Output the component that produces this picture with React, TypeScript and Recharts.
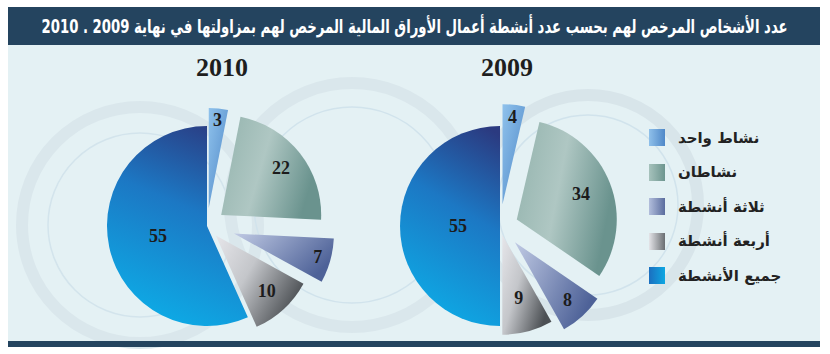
import React, { useLayoutEffect, useRef, useState } from "react";
import { PieChart, Pie, Sector, Tooltip, Cell } from "recharts";

// ---------- data ----------
const categories = ["نشاط واحد", "نشاطان", "ثلاثة أنشطة", "أربعة أنشطة", "جميع الأنشطة"];
const values2009 = [4, 34, 8, 9, 55];
const values2010 = [3, 22, 7, 10, 55];
const years = ["2009", "2010"];
const title = "عدد الأشخاص المرخص لهم بحسب عدد أنشطة أعمال الأوراق المالية المرخص لهم بمزاولتها في نهاية 2009 . 2010";

// ---------- styles ----------
const gradIds = ["gOne", "gTwo", "gThree", "gFour", "gAll"];
const explode2009 = [22, 18, 22, 9, 0];
const explode2010 = [18, 18, 28, 13, 0];
const labelDist2009 = [110, 87, 100, 74, 42];
const labelDist2010 = [107, 94, 115, 88, 50];

const RAD = Math.PI / 180;

const buildRows = (vals: number[]) => categories.map((c, i) => ({ name: c, value: vals[i], idx: i }));
const rows2009 = buildRows(values2009);
const rows2010 = buildRows(values2010);

const makeShape = (explode: number[]) => (props: any) => {
  const i = props.payload?.idx ?? props.idx ?? 0;
  const off = explode[i] || 0;
  const dx = off * Math.cos(-props.midAngle * RAD);
  const dy = off * Math.sin(-props.midAngle * RAD);
  return (
    <Sector
      cx={props.cx + dx}
      cy={props.cy + dy}
      innerRadius={props.innerRadius}
      outerRadius={props.outerRadius}
      startAngle={props.startAngle}
      endAngle={props.endAngle}
      fill={props.fill}
      stroke="none"
    />
  );
};

const makeLabel = (dist: number[]) => (props: any) => {
  const i = props.payload?.idx ?? props.idx ?? props.index ?? 0;
  const r = dist[i];
  const x = props.cx + r * Math.cos(-props.midAngle * RAD);
  const y = props.cy + r * Math.sin(-props.midAngle * RAD);
  return (
    <text
      x={x}
      y={y}
      textAnchor="middle"
      dominantBaseline="central"
      fontFamily="'Liberation Serif', 'DejaVu Serif', serif"
      fontWeight="bold"
      fontSize={18}
      fill="#1c1c1c"
    >
      {props.value}
    </text>
  );
};

const legendFills = [
  "linear-gradient(90deg,#8fc0ea,#4f88c8)",
  "linear-gradient(90deg,#a6c2bc,#6d958f)",
  "linear-gradient(90deg,#b2bedc,#5a6c9e)",
  "linear-gradient(90deg,#e4e4e8,#6a6e72)",
  "linear-gradient(90deg,#1b6fc0,#0ea7e2)",
];

const YearPie = ({ rows, explode, dist, cx }: any) => {
  const shape = makeShape(explode);
  return (
    <div style={{ position: "absolute", left: 0, top: 0 }}>
      <PieChart width={830} height={354}>
        <Pie
          data={rows}
          dataKey="value"
          nameKey="name"
          cx={cx}
          cy={221}
          outerRadius={100}
          innerRadius={0}
          startAngle={90}
          endAngle={-270}
          stroke="none"
          isAnimationActive={false}
          labelLine={false}
          label={makeLabel(dist)}
          shape={shape}
          activeShape={shape}
          inactiveShape={shape}
        >
          {rows.map((r: any, i: number) => (
            <Cell key={i} fill={`url(#${gradIds[i]})`} />
          ))}
        </Pie>
        <Tooltip defaultIndex={0} content={() => null} cursor={false} />
      </PieChart>
    </div>
  );
};

const FitTitle = ({ text, width }: { text: string; width: number }) => {
  const ref = useRef<HTMLSpanElement>(null);
  const [scale, setScale] = useState(1);
  useLayoutEffect(() => {
    if (ref.current) {
      const w = ref.current.offsetWidth;
      if (w > 0) setScale(width / w);
    }
  }, [text, width]);
  return (
    <div style={{ position: "absolute", left: 42, top: 7, width, height: 38, display: "flex", alignItems: "center", justifyContent: "center", overflow: "visible" }}>
      <span
        ref={ref}
        dir="rtl"
        style={{
          display: "inline-block",
          flex: "none",
          whiteSpace: "nowrap",
          color: "#ffffff",
          fontFamily: "'DejaVu Sans', sans-serif",
          fontWeight: "bold",
          fontSize: 19,
          lineHeight: "24px",
          transform: `scaleX(${scale})`,
          transformOrigin: "center center",
        }}
      >
        {text}
      </span>
    </div>
  );
};

export default function App() {
  return (
    <div style={{ position: "absolute", left: 0, top: 0, width: 830, height: 354, background: "#ffffff", overflow: "hidden" }}>
      <svg width={0} height={0} style={{ position: "absolute" }}>
        <defs>
          <linearGradient id="gAll" x1="0.85" y1="0" x2="0.55" y2="1">
            <stop offset="0" stopColor="#2b3a80" />
            <stop offset="0.45" stopColor="#1c78c4" />
            <stop offset="1" stopColor="#0ea8e4" />
          </linearGradient>
          <linearGradient id="gOne" x1="0" y1="0" x2="1" y2="1">
            <stop offset="0" stopColor="#8fc2ec" />
            <stop offset="1" stopColor="#4d86c6" />
          </linearGradient>
          <linearGradient id="gTwo" x1="0" y1="0" x2="1" y2="0.3">
            <stop offset="0" stopColor="#93b3ad" />
            <stop offset="0.5" stopColor="#afc7c3" />
            <stop offset="1" stopColor="#6a938e" />
          </linearGradient>
          <linearGradient id="gThree" x1="0" y1="0" x2="1" y2="0.5">
            <stop offset="0" stopColor="#c0cae4" />
            <stop offset="1" stopColor="#4e6298" />
          </linearGradient>
          <linearGradient id="gFour" x1="0" y1="0" x2="1" y2="0.6">
            <stop offset="0" stopColor="#e6e6ea" />
            <stop offset="0.45" stopColor="#c4c6ca" />
            <stop offset="1" stopColor="#4c5054" />
          </linearGradient>
        </defs>
      </svg>
      {/* panel */}
      <div style={{ position: "absolute", left: 8, top: 8, width: 812, height: 339, background: "#e4f1f4" }} />
      {/* decorative rings */}
      <svg width={830} height={354} style={{ position: "absolute", left: 0, top: 0 }}>
        <circle cx={140} cy={225} r={118} fill="none" stroke="#dae7ec" strokeWidth={12} />
        <circle cx={140} cy={225} r={92} fill="none" stroke="#d3e4ec" strokeWidth={1.5} />
        <circle cx={352} cy={205} r={122} fill="none" stroke="#dae7ec" strokeWidth={12} />
        <circle cx={352} cy={205} r={98} fill="none" stroke="#d1e3ec" strokeWidth={1.5} />
        <circle cx={588} cy={205} r={110} fill="none" stroke="#d8e5ea" strokeWidth={12} />
        <circle cx={588} cy={205} r={90} fill="none" stroke="#d1e3ec" strokeWidth={1.5} />
      </svg>
      {/* banner */}
      <div style={{ position: "absolute", left: 8, top: 7, width: 812, height: 38, background: "#24445f" }} />
      <FitTitle text={title} width={746} />
      {/* bottom bar */}
      <div style={{ position: "absolute", left: 8, top: 341, width: 812, height: 6, background: "#24445f" }} />

      <YearPie rows={rows2010} explode={explode2010} dist={labelDist2010} cx={202} />
      <YearPie rows={rows2009} explode={explode2009} dist={labelDist2009} cx={495} />

      {/* year titles */}
      {[{ y: years[1], x: 222 }, { y: years[0], x: 507 }].map((t) => (
        <div
          key={t.y}
          style={{
            position: "absolute",
            left: t.x - 50,
            width: 100,
            top: 53,
            textAlign: "center",
            fontFamily: "'Liberation Serif', 'DejaVu Serif', serif",
            fontWeight: "bold",
            fontSize: 26,
            color: "#1e1e1e",
          }}
        >
          {t.y}
        </div>
      ))}

      {/* legend */}
      {categories.map((c, i) => (
        <div key={c} style={{ position: "absolute", left: 649, top: 129 + i * 34.5, height: 17, display: "flex", alignItems: "center" }}>
          <div style={{ width: 16, height: 17, background: legendFills[i] }} />
          <div
            dir="rtl"
            style={{
              marginLeft: 13,
              fontFamily: "'DejaVu Sans', sans-serif",
              fontWeight: "bold",
              fontSize: 15,
              color: "#222222",
              whiteSpace: "nowrap",
            }}
          >
            {c}
          </div>
        </div>
      ))}
    </div>
  );
}
